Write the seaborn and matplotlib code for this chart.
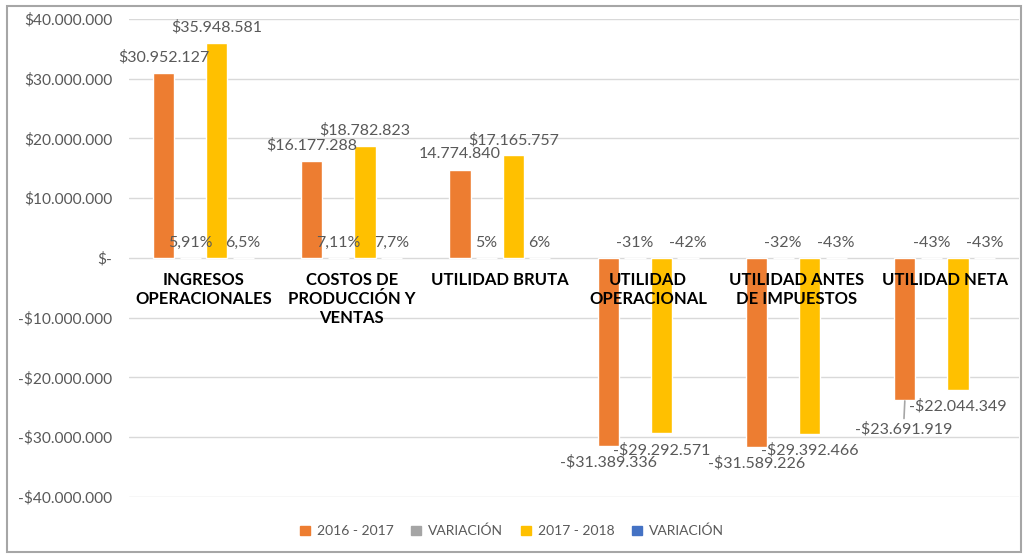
import matplotlib
matplotlib.use("Agg")
import matplotlib.pyplot as plt
import seaborn as sns
import pandas as pd
from matplotlib.patches import Rectangle

categories = ["INGRESOS\nOPERACIONALES", "COSTOS DE\nPRODUCCIÓN Y\nVENTAS", "UTILIDAD BRUTA",
              "UTILIDAD\nOPERACIONAL", "UTILIDAD ANTES\nDE IMPUESTOS", "UTILIDAD NETA"]
series_names = ["2016 - 2017", "VARIACIÓN", "2017 - 2018", "VARIACIÓN "]
vals_2016_2017 = [30952127, 16177288, 14774840, -31389336, -31589226, -23691919]
var_1 = [0.0591, 0.0711, 0.05, -0.31, -0.32, -0.43]
vals_2017_2018 = [35948581, 18782823, 17165757, -29292571, -29392466, -22044349]
var_2 = [0.065, 0.077, 0.06, -0.42, -0.43, -0.43]
labels_2016_2017 = ["$30.952.127", "$16.177.288", "14.774.840", "-$31.389.336", "-$31.589.226", "-$23.691.919"]
labels_var_1 = ["5,91%", "7,11%", "5%", "-31%", "-32%", "-43%"]
labels_2017_2018 = ["$35.948.581", "$18.782.823", "$17.165.757", "-$29.292.571", "-$29.392.466", "-$22.044.349"]
labels_var_2 = ["6,5%", "7,7%", "6%", "-42%", "-43%", "-43%"]
yticks = [40e6, 30e6, 20e6, 10e6, 0, -10e6, -20e6, -30e6, -40e6]
ytick_labels = ["$40.000.000", "$30.000.000", "$20.000.000", "$10.000.000", "$-",
                "-$10.000.000", "-$20.000.000", "-$30.000.000", "-$40.000.000"]

colors = ["#ED7D31", "#A5A5A5", "#FFC000", "#4472C4"]

rows = []
for s, vals in zip(series_names, [vals_2016_2017, var_1, vals_2017_2018, var_2]):
    for c, v in zip(categories, vals):
        rows.append({"cat": c, "series": s, "value": v})
df = pd.DataFrame(rows)

sns.set_theme(style="white")
plt.rcParams["font.family"] = ["Lato", "DejaVu Sans"]

fig = plt.figure(figsize=(10.26, 5.55), dpi=100)
ax = fig.add_axes([0.126, 0.1045, 0.867, 0.8615])

sns.barplot(data=df, x="cat", y="value", hue="series", order=categories,
            hue_order=series_names, palette=colors, width=0.716, gap=0.2,
            ax=ax, legend=False, saturation=1)

ax.set_ylim(-40e6, 40e6)
ax.set_xlim(-0.5, len(categories) - 0.5)
ax.set_yticks(yticks)
ax.set_yticklabels(ytick_labels, color="#595959", fontsize=11.2)
ax.yaxis.grid(True, color="#D9D9D9", linewidth=1)
ax.set_axisbelow(True)
for sp in ax.spines.values():
    sp.set_visible(False)
ax.tick_params(axis="y", length=0, pad=12)
ax.set_xticks([])
ax.set_xlabel("")
ax.set_ylabel("")

# category labels drawn above the bars, just below the zero line
for k, cat in enumerate(categories):
    ax.annotate(cat, xy=(k, 0), xytext=(0, -10), textcoords="offset points",
                ha="center", va="top", fontsize=12, fontweight="bold",
                color="black", linespacing=1.25, zorder=10)

txt_color = "#595959"
fs = 11.5
label_sets = [labels_2016_2017, labels_var_1, labels_2017_2018, labels_var_2]
for i, (cont, labs) in enumerate(zip(ax.containers, label_sets)):
    for j, (bar, lab) in enumerate(zip(cont.patches, labs)):
        xc = bar.get_x() + bar.get_width() / 2
        h = bar.get_height()
        if i in (1, 3):
            ax.annotate(lab, xy=(xc, 0), xytext=(0, 6), textcoords="offset points",
                        ha="center", va="bottom", color=txt_color, fontsize=fs, zorder=11)
        elif (i, j) == (0, 5):
            ax.annotate(lab, xy=(xc, h), xytext=(-1, -16), textcoords="offset points",
                        ha="center", va="top", color=txt_color, fontsize=fs, zorder=11,
                        arrowprops=dict(arrowstyle="-", color="#A6A6A6", lw=1.2,
                                        shrinkA=0, shrinkB=1))
        elif h >= 0:
            ax.annotate(lab, xy=(xc, h), xytext=(0, 6),
                        textcoords="offset points", ha="center", va="bottom",
                        color=txt_color, fontsize=fs, zorder=11)
        else:
            ax.annotate(lab, xy=(xc, h), xytext=(0, -7), textcoords="offset points",
                        ha="center", va="top", color=txt_color, fontsize=fs, zorder=11)

handles = [Rectangle((0, 0), 1, 1, color=c) for c in colors]
fig.legend(handles, ["2016 - 2017", "VARIACIÓN", "2017 - 2018", "VARIACIÓN"],
           loc="center", bbox_to_anchor=(0.499, 0.043), ncol=4, frameon=False,
           fontsize=10, labelcolor=txt_color, handlelength=0.7, handleheight=0.7,
           columnspacing=1.3, handletextpad=0.5)

fig.patches.append(Rectangle((0.007, 0.006), 0.988, 0.984, transform=fig.transFigure,
                             fill=False, edgecolor="#A6A6A6", linewidth=1.5))

fig.savefig("out.png", dpi=100)
